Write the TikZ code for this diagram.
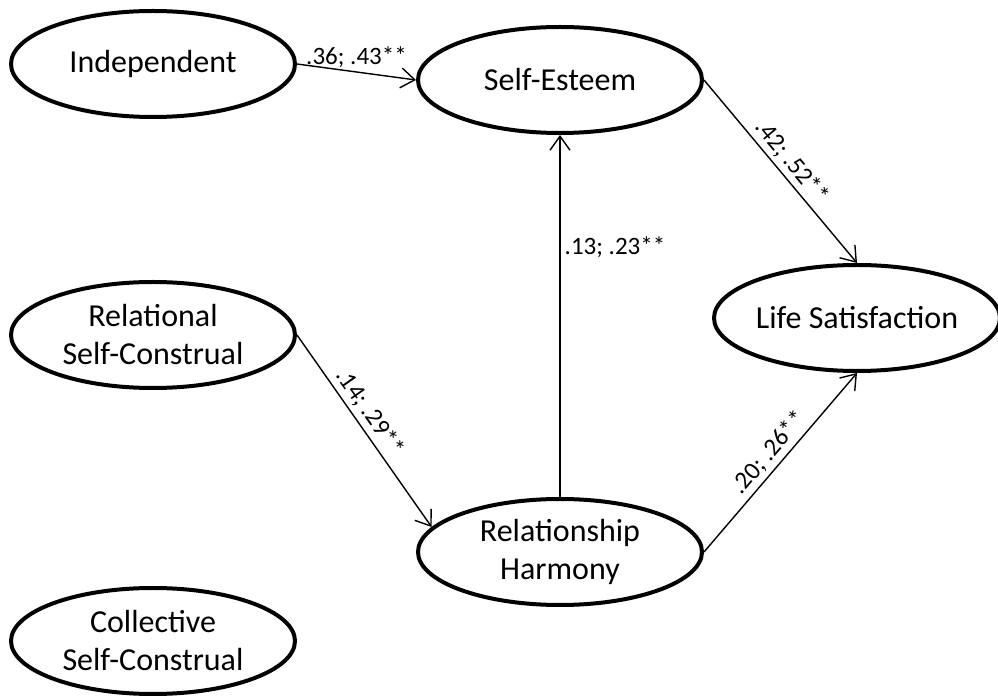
\documentclass[tikz,border=0pt]{standalone}
\usepackage{fontspec}
\setmainfont{Carlito}
\usetikzlibrary{positioning, shapes.geometric, arrows.meta}

\begin{document}
\begin{tikzpicture}[x=0.5pt, y=-0.5pt,
    construct/.style={ellipse, draw, line width=2pt, minimum width=142pt, minimum height=53pt,
                      inner sep=0pt, align=center, font=\fontsize{16}{19}\selectfont},
    effect/.style={-{Straight Barb[length=7pt, width=10pt]}, line width=0.7pt},
    coef/.style={font=\fontsize{12.5}{14}\selectfont, inner sep=2pt}]
  \useasboundingbox (0,0) rectangle (998,700);

  % constructs
  \node[construct] (ind) at (153,64) {Independent};
  \node[construct] (rel) at (153,335) {Relational\\Self-Construal};
  \node[construct] (col) at (153,641) {Collective\\Self-Construal};
  \node[construct] (se) at (560,80) {Self-Esteem};
  \node[construct] (rh) at (560,552) {Relationship\\Harmony};
  \node[construct, minimum width=137pt] (ls) at (857,318) {Life Satisfaction};

  % paths
  \draw[effect] (ind.east) -- node[coef, above] {.36; .43**} (se.west);
  \draw[effect] (se.east) -- node[coef, sloped, above] {.42; .52**} (ls.north);
  \draw[effect] (rh.north) -- node[coef, right, pos=0.69] {.13; .23**} (se.south);
  \draw[effect] (rel.east) -- node[coef, sloped, above, pos=0.45] {.14; .29**} (rh.169);
  \draw[effect] (rh.east) -- node[coef, sloped, above] {.20; .26**} (ls.south);
\end{tikzpicture}
\end{document}
